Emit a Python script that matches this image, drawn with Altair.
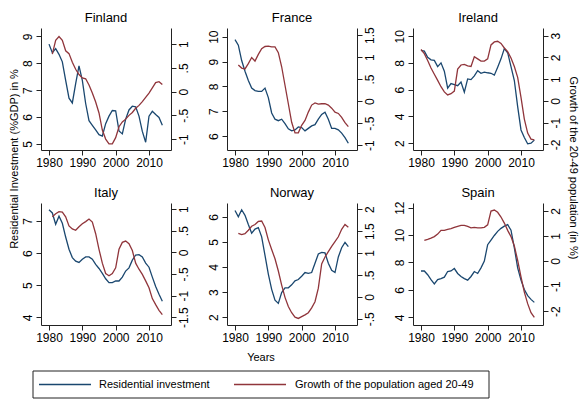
import altair as alt
import pandas as pd

FONT = "Liberation Sans"
BLUE = "#1a476f"
RED = "#90353b"

years = list(range(1980, 2015))

finland_inv = [8.71, 8.39, 8.54, 8.33, 8.05, 7.36, 6.70, 6.52, 7.24, 7.90,
               7.36, 6.50, 5.86, 5.69, 5.52, 5.34, 5.29, 5.75, 6.03, 6.24,
               6.23, 5.48, 5.37, 5.92, 6.26, 6.40, 6.38, 6.03, 5.46, 5.06,
               6.03, 6.21, 6.09, 5.98, 5.69]
finland_pop = [None, 0.79, 1.08, 1.16, 1.08, 0.86, 0.80, 0.62, 0.47, 0.36,
               0.29, 0.27, 0.14, -0.03, -0.22, -0.45, -0.81, -1.00, -1.10, -1.10,
               -0.97, -0.74, -0.64, -0.58, -0.50, -0.44, -0.35, -0.29, -0.21, -0.12,
               -0.03, 0.08, 0.19, 0.21, 0.15]

france_inv = [9.88, 9.66, 9.04, 8.61, 8.24, 7.93, 7.83, 7.80, 7.80, 7.93,
              7.55, 6.93, 6.68, 6.62, 6.68, 6.50, 6.29, 6.21, 6.25, 6.37,
              6.34, 6.21, 6.31, 6.41, 6.46, 6.68, 6.87, 6.96, 6.68, 6.31,
              6.31, 6.25, 6.12, 5.94, 5.71]
france_pop = [None, 0.82, 0.75, 0.73, 0.85, 0.99, 0.91, 1.06, 1.19, 1.24,
              1.25, 1.23, 1.23, 1.10, 0.78, 0.36, -0.06, -0.48, -0.72, -0.72,
              -0.55, -0.44, -0.25, -0.09, -0.04, -0.07, -0.06, -0.06, -0.09, -0.16,
              -0.25, -0.28, -0.37, -0.49, -0.58]

ireland_inv = [8.94, 8.89, 8.43, 8.24, 8.20, 7.73, 8.01, 7.39, 6.12, 6.46,
               6.39, 6.30, 6.58, 5.82, 6.81, 6.76, 7.04, 7.43, 7.23, 7.32,
               7.27, 7.23, 7.09, 7.69, 8.31, 9.08, 8.77, 7.73, 6.69, 4.73,
               2.99, 2.42, 1.95, 2.00, 2.23]
ireland_pop = [2.36, 2.17, 1.86, 1.51, 1.22, 0.94, 0.65, 0.41, 0.27, 0.33,
               0.45, 1.46, 1.65, 1.68, 1.61, 1.58, 2.03, 1.93, 1.83, 1.83,
               1.93, 2.57, 2.71, 2.74, 2.64, 2.43, 2.26, 1.97, 1.58, 1.08,
               0.16, -0.84, -1.48, -1.76, -1.80]

italy_inv = [7.35, 7.25, 6.90, 7.15, 6.93, 6.50, 6.12, 5.86, 5.75, 5.71,
             5.81, 5.88, 5.88, 5.81, 5.65, 5.52, 5.37, 5.20, 5.08, 5.08,
             5.13, 5.13, 5.25, 5.44, 5.54, 5.78, 5.94, 5.95, 5.88, 5.69,
             5.56, 5.25, 4.96, 4.72, 4.50]
italy_pop = [None, 0.82, 0.89, 0.94, 0.93, 0.82, 0.61, 0.54, 0.51, 0.59,
             0.66, 0.71, 0.77, 0.70, 0.43, 0.07, -0.25, -0.49, -0.54, -0.49,
             -0.36, 0.07, 0.23, 0.26, 0.20, 0.04, -0.25, -0.39, -0.51, -0.66,
             -0.82, -1.07, -1.21, -1.34, -1.44]

norway_inv = [6.25, 6.00, 6.28, 6.06, 5.69, 5.35, 5.51, 5.57, 5.20, 4.46,
              3.72, 3.11, 2.68, 2.55, 2.98, 3.17, 3.17, 3.29, 3.45, 3.50,
              3.63, 3.78, 3.75, 3.78, 4.15, 4.52, 4.58, 4.56, 4.15, 3.87,
              3.78, 4.40, 4.77, 4.98, 4.81]
norway_pop = [None, 1.45, 1.42, 1.44, 1.52, 1.61, 1.65, 1.72, 1.73, 1.58,
              1.30, 1.08, 0.87, 0.59, 0.27, -0.01, -0.22, -0.36, -0.46, -0.49,
              -0.45, -0.41, -0.36, -0.25, -0.11, 0.20, 0.75, 0.91, 1.03, 1.15,
              1.26, 1.37, 1.54, 1.65, 1.59]

spain_inv = [7.38, 7.38, 7.11, 6.75, 6.44, 6.75, 6.82, 6.93, 7.34, 7.38,
             7.56, 7.20, 6.98, 6.82, 6.71, 6.98, 7.34, 7.20, 7.61, 8.10,
             9.30, 9.64, 9.97, 10.27, 10.49, 10.65, 10.76, 10.36, 9.07, 7.61,
             6.71, 6.03, 5.58, 5.31, 5.09]
spain_pop = [None, 0.82, 0.86, 0.91, 0.97, 1.07, 1.22, 1.22, 1.26, 1.29,
             1.34, 1.38, 1.42, 1.42, 1.38, 1.32, 1.34, 1.32, 1.32, 1.34,
             1.44, 1.99, 2.03, 1.94, 1.75, 1.51, 1.22, 0.97, 0.60, 0.02,
             -0.63, -1.24, -1.70, -2.06, -2.25]

x_ticks = [1980, 1990, 2000, 2010]

left_ticks = {
    "Finland": [5, 6, 7, 8, 9],
    "France": [6, 7, 8, 9, 10],
    "Ireland": [2, 4, 6, 8, 10],
    "Italy": [4, 5, 6, 7],
    "Norway": [2, 3, 4, 5, 6],
    "Spain": [4, 6, 8, 10, 12],
}
right_ticks = {
    "Finland": [-1, -0.5, 0, 0.5, 1],
    "France": [-1, -0.5, 0, 0.5, 1, 1.5],
    "Ireland": [-2, -1, 0, 1, 2, 3],
    "Italy": [-1.5, -1, -0.5, 0, 0.5, 1],
    "Norway": [-0.5, 0, 0.5, 1, 1.5, 2],
    "Spain": [-2, -1, 0, 1, 2],
}
left_domain = {
    "Finland": [4.77, 9.31],
    "France": [5.44, 10.35],
    "Ireland": [1.49, 10.62],
    "Italy": [3.76, 7.56],
    "Norway": [1.69, 6.55],
    "Spain": [3.44, 12.34],
}
right_domain = {
    "Finland": [-1.23, 1.34],
    "France": [-1.11, 1.66],
    "Ireland": [-2.26, 3.35],
    "Italy": [-1.68, 1.14],
    "Norway": [-0.64, 2.14],
    "Spain": [-2.55, 2.31],
}

series = {
    "Finland": (finland_inv, finland_pop),
    "France": (france_inv, france_pop),
    "Ireland": (ireland_inv, ireland_pop),
    "Italy": (italy_inv, italy_pop),
    "Norway": (norway_inv, norway_pop),
    "Spain": (spain_inv, spain_pop),
}

left_title = "Residential Investment (%GDP) in %"
right_title = "Growth of the 20-49 population (in %)"
x_title = "Years"
legend_labels = ["Residential investment", "Growth of the population aged 20-49"]

W, H = 130, 122
AX = "#222222"

lab_expr = "(datum.value < 0 ? '-' : '') + replace(format(abs(datum.value), '~g'), '0.', '.')"


def txt(label, x, y, angle=0, align="center", size=11, baseline="middle"):
    kw = dict(align=align, baseline=baseline, font=FONT, fontSize=size, color="black")
    if angle:
        kw["angle"] = angle
    return alt.Chart(pd.DataFrame({"t": [label]})).mark_text(**kw).encode(
        text="t:N", x=alt.value(x), y=alt.value(y))


def panel(name, extras=()):
    inv, pop = series[name]
    df = pd.DataFrame({"year": years, "inv": inv, "pop": pop})
    base = alt.Chart(df).encode(
        x=alt.X("year:Q",
                scale=alt.Scale(domain=[1977.6, 2016.6], nice=False, zero=False),
                axis=alt.Axis(values=x_ticks, format="d", title=None, grid=False,
                              domainColor=AX, tickColor=AX, tickSize=5,
                              labelFont=FONT, labelFontSize=12, labelColor="black",
                              labelPadding=2, labelFlush=False, labelOverlap=False))
    )
    blue = base.mark_line(color=BLUE, strokeWidth=1.3).encode(
        y=alt.Y("inv:Q",
                scale=alt.Scale(domain=left_domain[name], nice=False, zero=False),
                axis=alt.Axis(orient="left", values=left_ticks[name], title=None, grid=False,
                              labelExpr=lab_expr,
                              domainColor=AX, tickColor=AX, tickSize=5,
                              labelAngle=-90, labelAlign="center", labelBaseline="bottom",
                              labelFont=FONT, labelFontSize=12, labelColor="black",
                              labelPadding=2, labelOverlap=False))
    )
    red = base.mark_line(color=RED, strokeWidth=1.3).encode(
        y=alt.Y("pop:Q",
                scale=alt.Scale(domain=right_domain[name], nice=False, zero=False),
                axis=alt.Axis(orient="right", values=right_ticks[name], title=None, grid=False,
                              labelExpr=lab_expr,
                              domainColor=AX, tickColor=AX, tickSize=5,
                              labelAngle=-90, labelAlign="center", labelBaseline="top",
                              labelFont=FONT, labelFontSize=12, labelColor="black",
                              labelPadding=2, labelOverlap=False))
    )
    title = txt(name, W / 2, -3, size=13, baseline="bottom")
    return alt.layer(blue, red, title, *extras).resolve_scale(y="independent").properties(
        width=W, height=H)


# overall titles and legend, placed relative to the Italy / Spain panels
BX0, BX1 = -8, 448
BY0, BY1 = 168, 195
BYM = (BY0 + BY1) / 2
leg_df = pd.DataFrame({"t": [legend_labels[0]]})
box = alt.Chart(leg_df).mark_rect(filled=False, stroke="#222222", strokeWidth=1).encode(
    x=alt.value(BX0), x2=alt.value(BX1), y=alt.value(BY0), y2=alt.value(BY1))
l1 = alt.Chart(leg_df).mark_rule(color=BLUE, strokeWidth=1.3).encode(
    x=alt.value(-2), x2=alt.value(50), y=alt.value(BYM))
l2 = alt.Chart(leg_df).mark_rule(color=RED, strokeWidth=1.3).encode(
    x=alt.value(193), x2=alt.value(245), y=alt.value(BYM))
t1 = txt(legend_labels[0], 58, BYM, align="left")
t2 = txt(legend_labels[1], 254, BYM, align="left")
yt = txt(x_title, 220, 155)
lt = txt(left_title, -26.5, -44, angle=270)
rt = txt(right_title, W + 30, -35, angle=90)

panels = [
    panel("Finland"), panel("France"), panel("Ireland"),
    panel("Italy", [lt, yt, box, l1, l2, t1, t2]), panel("Norway"), panel("Spain", [rt]),
]

chart = alt.concat(*panels, columns=3, spacing={"row": 53, "column": 56},
                   bounds="flush").properties(
    padding={"top": 4, "left": 0, "right": 0, "bottom": 0}, background="white"
).configure_view(strokeWidth=0)

chart.save("out.html", embed_options={"renderer": "svg", "actions": False})
